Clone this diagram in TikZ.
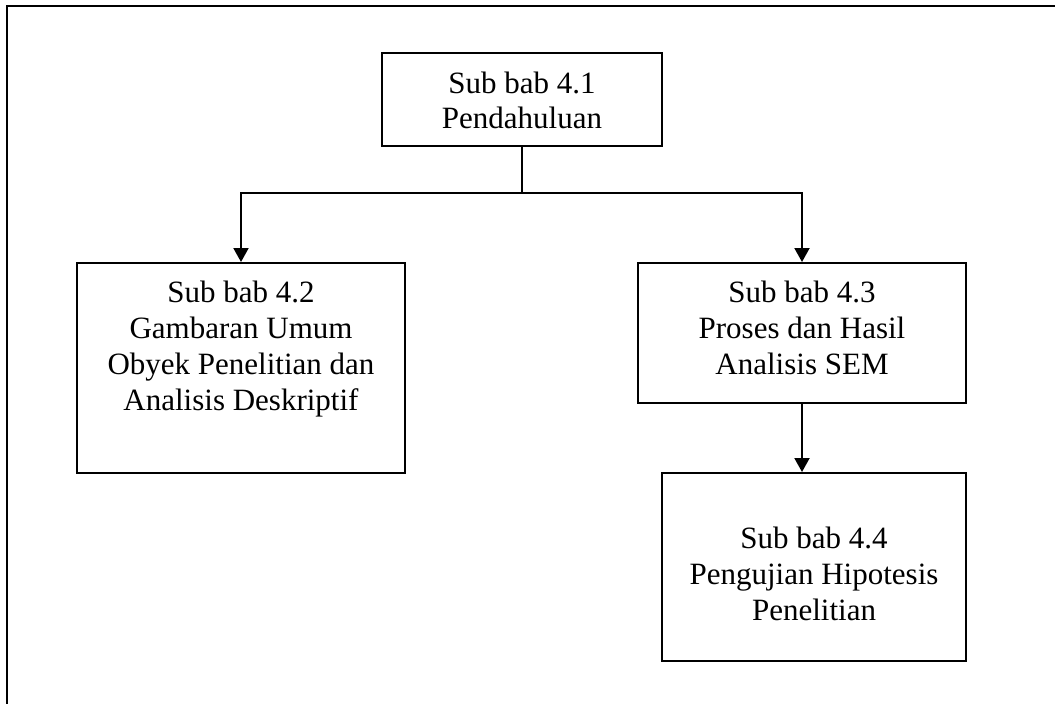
\documentclass[tikz,border=0pt]{standalone}
\usepackage{fontspec}
\setmainfont{Liberation Serif}
\usetikzlibrary{arrows.meta}
\begin{document}
\begin{tikzpicture}[x=1pt,y=-1pt,
  box/.style={draw=black, line width=2pt, rectangle, inner sep=0pt},
  link/.style={draw=black, line width=2pt},
  tip/.style={-{Triangle[width=15pt,length=14pt]}},
  txt/.style={anchor=base, inner sep=0pt, font=\fontsize{31}{36}\selectfont},
  frame/.style={draw=black, line width=2.5pt}]
\useasboundingbox (0,0) rectangle (1055,704);

% open page frame (top and left edges)
\coordinate (fr1) at (1055,6);
\coordinate (fr2) at (7,6);
\coordinate (fr3) at (7,704);
\draw[frame] (fr1) -- (fr2) -- (fr3);

% chapter section boxes
\node[box, minimum width=280pt, minimum height=93pt] (b41) at (522,99.5) {};
\node[box, minimum width=328pt, minimum height=210pt] (b42) at (241,368) {};
\node[box, minimum width=328pt, minimum height=140pt] (b43) at (802,333) {};
\node[box, minimum width=304pt, minimum height=188pt] (b44) at (814,567) {};

% box texts, one node per line on its baseline
\node[txt] (t41a) at (522,93)  {Sub bab 4.1};
\node[txt] (t41b) at (522,128) {Pendahuluan};

\node[txt] (t42a) at (241,302) {Sub bab 4.2};
\node[txt] (t42b) at (241,338) {Gambaran Umum};
\node[txt] (t42c) at (241,374) {Obyek Penelitian dan};
\node[txt] (t42d) at (241,410) {Analisis Deskriptif};

\node[txt] (t43a) at (802,302) {Sub bab 4.3};
\node[txt] (t43b) at (802,338) {Proses dan Hasil};
\node[txt] (t43c) at (802,374) {Analisis SEM};

\node[txt] (t44a) at (814,548) {Sub bab 4.4};
\node[txt] (t44b) at (814,584) {Pengujian Hipotesis};
\node[txt] (t44c) at (814,620) {Penelitian};

% connectors
\coordinate (split) at (522,193);
\draw[link] (b41.south) -- (split);
\draw[link, tip] (split) -| (b42.north);
\draw[link, tip] (split) -| (b43.north);
\draw[link, tip] (b43.south) -- (b43.south |- b44.north);
\end{tikzpicture}
\end{document}
